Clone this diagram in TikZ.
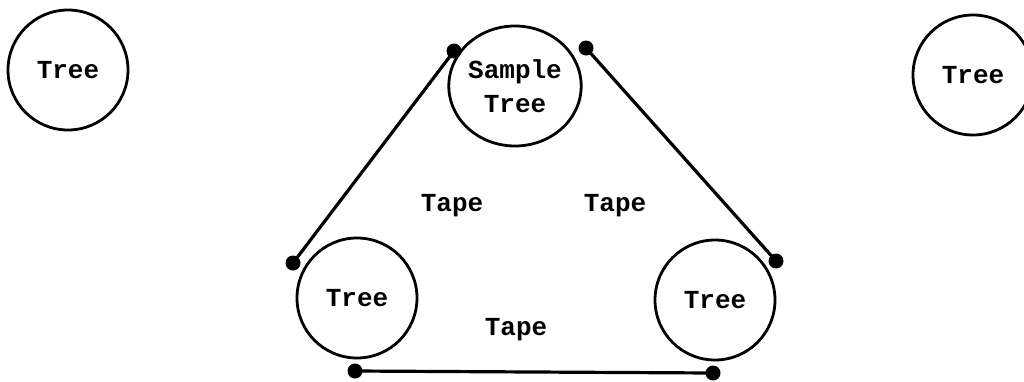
\documentclass[tikz,border=0pt]{standalone}
\usepackage{fontspec}
\usepackage{tikz}
\usetikzlibrary{shapes.geometric}
\newfontfamily\typefont{Liberation Mono}

\begin{document}
\begin{tikzpicture}[x=1pt, y=-1pt,
        tree/.style = {draw, circle, line width=2.8pt, minimum size=120pt, inner sep=0pt,
                       font=\typefont\bfseries\fontsize{26}{34}\selectfont, align=center},
        tape/.style = {font=\typefont\bfseries\fontsize{26}{34}\selectfont},
        tapeline/.style = {line width=3.2pt}]
        \useasboundingbox (0,0) rectangle (1024,381);

        % Trees
        \node[tree] (T1) at (68,70) {Tree};
        \node[tree] (T2) at (973,75) {Tree};
        \node[tree, ellipse, minimum width=106pt, minimum height=120pt] (S) at (515,86) {Sample\\Tree};
        \node[tree] (T3) at (357,298) {Tree};
        \node[tree] (T4) at (715,300) {Tree};

        % Tape ends
        \coordinate (A1) at (293,263);
        \coordinate (A2) at (454,51);
        \coordinate (B1) at (586,48);
        \coordinate (B2) at (776,261);
        \coordinate (C1) at (355,371);
        \coordinate (C2) at (713,373);

        % Tapes
        \draw[tapeline] (A1) -- (A2);
        \draw[tapeline] (B1) -- (B2);
        \draw[tapeline] (C1) -- (C2);
        \foreach \p in {A1,A2,B1,B2,C1,C2}
            \fill (\p) circle (7.5);

        % Labels
        \node[tape] (L1) at (452,206) {Tape};
        \node[tape] (L2) at (615,206) {Tape};
        \node[tape] (L3) at (516,330) {Tape};
\end{tikzpicture}
\end{document}
